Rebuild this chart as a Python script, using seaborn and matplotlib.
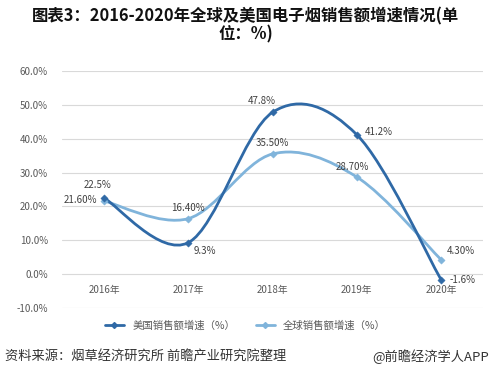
import matplotlib
matplotlib.use("Agg")
import matplotlib.pyplot as plt
from matplotlib.path import Path
from matplotlib.patches import PathPatch
from matplotlib.lines import Line2D
import numpy as np
import pandas as pd
import seaborn as sns

years = ["2016年", "2017年", "2018年", "2019年", "2020年"]
us_growth = [22.5, 9.3, 47.8, 41.2, -1.6]
global_growth = [21.6, 16.4, 35.5, 28.7, 4.3]
us_labels = ["22.5%", "9.3%", "47.8%", "41.2%", "-1.6%"]
global_labels = ["21.60%", "16.40%", "35.50%", "28.70%", "4.30%"]
yticks = [-10, 0, 10, 20, 30, 40, 50, 60]

US_COLOR = "#2f69a6"
GL_COLOR = "#80b4db"
TEXT = "#595959"

sns.set_theme(style="white")
plt.rcParams["font.family"] = ["Noto Sans CJK SC", "DejaVu Sans"]


def smooth_path(xs, ys):
    """Excel-like smoothed line as cubic bezier segments."""
    pts = np.column_stack([xs, ys]).astype(float)
    verts = [pts[0]]
    codes = [Path.MOVETO]
    n = len(pts)
    for i in range(n - 1):
        p0 = pts[i - 1] if i > 0 else pts[i]
        p1 = pts[i]
        p2 = pts[i + 1]
        p3 = pts[i + 2] if i + 2 < n else pts[i + 1]
        c1 = p1 + (p2 - p0) / 6.0
        c2 = p2 - (p3 - p1) / 6.0
        verts += [c1, c2, p2]
        codes += [Path.CURVE4] * 3
    return Path(verts, codes)


df = pd.DataFrame({"x": range(len(years)), "us": us_growth, "gl": global_growth})

fig = plt.figure(figsize=(4.91, 3.81), dpi=100)
ax = fig.add_axes([0.126, 0.1916, 0.858, 0.622])

for col, color in [("gl", GL_COLOR), ("us", US_COLOR)]:
    ax.add_patch(PathPatch(smooth_path(df["x"], df[col]), fill=False,
                           edgecolor=color, lw=2.0, zorder=3, capstyle="round"))
    sns.scatterplot(data=df, x="x", y=col, ax=ax, marker="D", s=14,
                    color=color, edgecolor=color, zorder=4, legend=False)

ax.set_xlim(-0.5, 4.5)
ax.set_ylim(-10, 60)
ax.set_yticks(yticks)
ax.set_yticklabels([f"{v:.1f}%" for v in yticks], fontsize=7, color=TEXT)
ax.set_xticks([])
ax.set_xlabel("")
ax.set_ylabel("")
ax.grid(axis="y", color="#d9d9d9", lw=0.8)
ax.tick_params(axis="y", length=0, pad=10)
for s in ax.spines.values():
    s.set_visible(False)

for i, lab in enumerate(years):
    ax.annotate(lab, (i, 0), xytext=(0, -8), textcoords="offset points",
                ha="center", va="top", fontsize=7, color=TEXT)

us_off = [(-5, 9), (4, -6), (-8, 8), (6, 2), (6, 0)]
gl_off = [(-17, 1), (0, 8), (0, 8), (-3, 7), (4, 6)]
for i in range(len(years)):
    ax.annotate(us_labels[i], (i, us_growth[i]), xytext=us_off[i],
                textcoords="offset points", ha="center" if us_off[i][0] < 0 else "left",
                va="center", fontsize=7, color="#404040", zorder=5)
    ax.annotate(global_labels[i], (i, global_growth[i]), xytext=gl_off[i],
                textcoords="offset points",
                ha="center" if gl_off[i][0] <= 0 else "left",
                va="center", fontsize=7, color="#404040", zorder=5)

handles = [Line2D([], [], color=US_COLOR, lw=2, marker="D", markersize=3),
           Line2D([], [], color=GL_COLOR, lw=2, marker="D", markersize=3)]
fig.legend(handles, ["美国销售额增速（%）", "全球销售额增速（%）"],
           loc="center", bbox_to_anchor=(0.5, 0.145), ncol=2, frameon=False,
           fontsize=7.5, handlelength=1.8, columnspacing=2.0, labelcolor=TEXT)

fig.text(0.5, 0.957, "图表3：2016-2020年全球及美国电子烟销售额增速情况(单",
         ha="center", va="center", fontsize=11.8, fontweight="bold", color="#111111")
fig.text(0.5, 0.91, "位：%)", ha="center", va="center", fontsize=11.8,
         fontweight="bold", color="#111111")
fig.text(0.01, 0.065, "资料来源：烟草经济研究所 前瞻产业研究院整理",
         ha="left", va="center", fontsize=9.5, color="#333333")
fig.text(0.995, 0.065, "@前瞻经济学人APP", ha="right", va="center",
         fontsize=9.5, color="#333333")

fig.savefig("out.png", dpi=100)
